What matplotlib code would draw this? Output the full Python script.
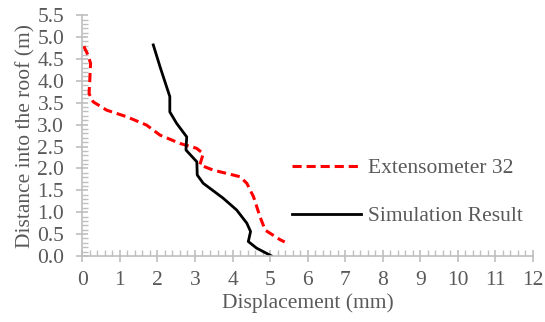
import matplotlib.pyplot as plt
from matplotlib.ticker import MultipleLocator

# Extensometer 32 readings (displacement mm, depth m)
ext_disp = [0.04, 0.15, 0.22, 0.20, 0.18, 0.29, 0.65, 1.18, 1.71, 2.07, 2.60,
            3.04, 3.22, 3.13, 3.49, 4.20, 4.38, 4.56, 4.73, 4.87, 5.27, 5.39]
ext_depth = [4.79, 4.59, 4.40, 4.02, 3.71, 3.52, 3.33, 3.18, 2.99, 2.76, 2.57,
             2.46, 2.34, 2.08, 1.96, 1.81, 1.66, 1.35, 0.90, 0.59, 0.37, 0.32]

# Simulation result
sim_disp = [1.89, 2.07, 2.20, 2.33, 2.33, 2.51, 2.78, 2.76, 3.05, 3.06, 3.22,
            3.75, 4.11, 4.38, 4.48, 4.42, 4.64, 5.04]
sim_depth = [4.82, 4.32, 3.98, 3.64, 3.29, 3.03, 2.72, 2.42, 2.15, 1.85, 1.66,
             1.32, 1.05, 0.75, 0.56, 0.33, 0.18, 0.0]

grey = '#595959'
spine = '#bfbfbf'
fs = 15.5

plt.rcParams['font.family'] = ['Liberation Serif', 'DejaVu Serif']
fig = plt.figure(figsize=(5.45, 3.22), dpi=100)
ax = fig.add_axes([0.151, 0.205, 0.827, 0.748])

ax.plot(ext_disp, ext_depth, color='#ff0000', lw=2.2, ls=(0, (3, 1.6)),
        label='Extensometer 32')
ax.plot(sim_disp, sim_depth, color='black', lw=2.0, label='Simulation Result')

ax.set_xlim(0, 12)
ax.set_ylim(0, 5.5)
ax.xaxis.set_major_locator(MultipleLocator(1))
ax.xaxis.set_minor_locator(MultipleLocator(0.2))
ax.yaxis.set_major_locator(MultipleLocator(0.5))
ax.yaxis.set_minor_locator(MultipleLocator(0.1))
ax.yaxis.set_major_formatter(lambda v, p: f'{v:.1f}')

for s in ['top', 'right']:
    ax.spines[s].set_visible(False)
for s in ['left', 'bottom']:
    ax.spines[s].set_color(spine)
    ax.spines[s].set_linewidth(1.2)
ax.tick_params(which='major', direction='inout', length=8, width=1.2,
               color=spine, labelcolor=grey, labelsize=fs)
ax.tick_params(which='minor', direction='in', length=4, width=1.0, color=spine)
ax.tick_params(axis='x', pad=7)
ax.tick_params(axis='y', pad=9)

ax.set_xlabel('Displacement (mm)', color=grey, fontsize=fs, labelpad=2)
ax.set_ylabel('Distance into the roof (m)', color=grey, fontsize=fs, labelpad=1)

leg = ax.legend(loc='center left', bbox_to_anchor=(0.465, 0.265), frameon=False,
                fontsize=fs, handlelength=3.2, labelspacing=1.3,
                handletextpad=0.35, borderpad=0, borderaxespad=0)
for t in leg.get_texts():
    t.set_color(grey)

fig.savefig('out.png', dpi=100)
